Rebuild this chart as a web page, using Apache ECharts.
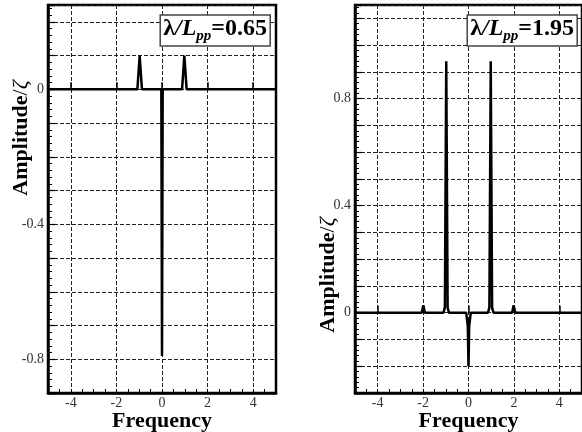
<!DOCTYPE html>
<html>
<head>
    <meta charset="utf-8">
    <title>Amplitude spectrum</title>
    <script src="https://cdn.jsdelivr.net/npm/echarts@6/dist/echarts.min.js"></script>
</head>
<body style="margin:0">
    <div id="main" style="width:582px;height:432px"></div>
    <script type="text/javascript">
        // left panel, lambda/Lpp = 0.65
        var freqLeft = [-5, -1.08, -0.98, -0.88, -0.03, 0, 0.03, 0.88, 0.98, 1.08, 5];
        var ampLeft  = [0, 0, 0.1, 0, 0, -0.79, 0, 0, 0.1, 0, 0];
        // right panel, lambda/Lpp = 1.95
        var freqRight = [-5, -2.06, -1.99, -1.92, -1.1, -1.04, -0.98, -0.92, -0.86,
                         -0.1, -0.03, 0, 0.03, 0.1, 0.86, 0.92, 0.98, 1.04, 1.1, 1.92, 1.99, 2.06, 5];
        var ampRight  = [0, 0, 0.028, 0, 0, 0.02, 0.94, 0.02, 0,
                         0, -0.05, -0.2, -0.05, 0, 0, 0.02, 0.94, 0.02, 0, 0, 0.028, 0, 0];
        var ratioLabels = ['0.65', '1.95'];
        var xMajorTicks = [-4, -2, 0, 2, 4];
        var yRangeLeft = [-0.9, 0.25];
        var yRangeRight = [-0.3, 1.15];

        var FONT = 'Liberation Serif';

        function pairs(xs, ys) {
            var out = [];
            for (var i = 0; i < xs.length; i++) out.push([xs[i], ys[i]]);
            return out;
        }

        function xLabel(v) {
            return Math.abs(v % 2) < 1e-9 ? String(v) : '';
        }
        function yLabel(v) {
            var k = Math.round(v * 10);
            if (Math.abs(v * 10 - k) > 1e-6 || k % 4 !== 0) return '';
            return k === 0 ? '0' : String(k / 10);
        }

        // axis with all the small ticks, labels and the dashed verticals
        function xMain(grid) {
            return {
                type: 'value', gridIndex: grid, min: -5, max: 5, interval: 0.5,
                name: 'Frequency', nameLocation: 'middle', nameGap: 17, nameMoveOverlap: false,
                nameTextStyle: { fontFamily: FONT, fontWeight: 'bold', fontSize: 22, color: '#000' },
                axisLine: { show: true, onZero: false, lineStyle: { color: '#000', width: 2.5 } },
                axisTick: { show: true, inside: true, length: 4, lineStyle: { color: '#000', width: 1 } },
                axisLabel: { formatter: xLabel, margin: 3, fontFamily: FONT, fontSize: 14, color: '#333' },
                splitLine: { show: true, lineStyle: { color: ['transparent', 'transparent', '#222', 'transparent'], type: [4, 2], width: 1 } }
            };
        }
        // longer ticks at the labelled values only
        function xMajor(grid) {
            return {
                type: 'value', gridIndex: grid, min: -5, max: 5, interval: 1, position: 'bottom',
                axisLine: { show: false },
                axisTick: { show: true, inside: true, length: 7, customValues: xMajorTicks, lineStyle: { color: '#000', width: 1.5 } },
                axisLabel: { show: false },
                splitLine: { show: false }
            };
        }
        function yAxisFor(grid, range, shift, gap) {
            return {
                type: 'value', gridIndex: grid, min: range[0], max: range[1], interval: 0.1,
                name: '{b|Amplitude}{r|/}{z|ζ}', nameLocation: 'middle', nameRotate: 90, nameGap: gap,
                nameMoveOverlap: false,
                nameTextStyle: {
                    padding: shift,
                    rich: {
                        b: { fontFamily: FONT, fontWeight: 'bold', fontSize: 22, color: '#000' },
                        r: { fontFamily: FONT, fontSize: 22, color: '#000' },
                        z: { fontFamily: FONT, fontStyle: 'italic', fontSize: 22, color: '#000' }
                    }
                },
                axisLine: { show: true, onZero: false, lineStyle: { color: '#000', width: 2.5 } },
                axisTick: { show: true, inside: true, length: 7, lineStyle: { color: '#000', width: 1.2 } },
                minorTick: { show: true, splitNumber: 5, length: 4, lineStyle: { color: '#000', width: 1 } },
                axisLabel: { formatter: yLabel, margin: 4, fontFamily: FONT, fontSize: 14, color: '#333' },
                splitLine: { show: true, lineStyle: { color: '#222', type: [4, 2], width: 1 } }
            };
        }
        function ratioBox(label, right) {
            return {
                text: '{l|λ}{i|/L}{s|pp}{b|=' + label + '}',
                right: right, top: 12,
                padding: [2, 3, 2, 3],
                backgroundColor: '#fff', borderColor: '#444', borderWidth: 1.5,
                textStyle: {
                    rich: {
                        l: { fontFamily: FONT, fontSize: 24, color: '#000', lineHeight: 30 },
                        i: { fontFamily: FONT, fontWeight: 'bold', fontStyle: 'italic', fontSize: 24, color: '#000', lineHeight: 30 },
                        s: { fontFamily: FONT, fontWeight: 'bold', fontStyle: 'italic', fontSize: 15, color: '#000', lineHeight: 10, verticalAlign: 'bottom' },
                        b: { fontFamily: FONT, fontWeight: 'bold', fontSize: 24, color: '#000', lineHeight: 30 }
                    }
                }
            };
        }

        var myChart = echarts.init(document.getElementById('main'), null, { renderer: 'canvas' });
        myChart.setOption({
            animation: false,
            backgroundColor: '#fff',
            title: [ratioBox(ratioLabels[0], 312), ratioBox(ratioLabels[1], 5)],
            grid: [
                { left: 48, top: 5, width: 228, height: 388, show: true, borderColor: '#000', borderWidth: 2.5, outerBoundsMode: 'none' },
                { left: 355, top: 5, width: 227, height: 388, show: true, borderColor: '#000', borderWidth: 2.5, outerBoundsMode: 'none' }
            ],
            xAxis: [xMain(0), xMajor(0), xMain(1), xMajor(1)],
            yAxis: [
                yAxisFor(0, yRangeLeft, [0, 0, 0, 122], 16),
                yAxisFor(1, yRangeRight, [0, 152, 0, 0], 16)
            ],
            series: [
                {
                    type: 'line', xAxisIndex: 0, yAxisIndex: 0, data: pairs(freqLeft, ampLeft),
                    showSymbol: false, lineStyle: { color: '#000', width: 2.5 }, z: 5
                },
                {
                    type: 'line', xAxisIndex: 2, yAxisIndex: 1, data: pairs(freqRight, ampRight),
                    showSymbol: false, lineStyle: { color: '#000', width: 2.5 }, z: 5
                }
            ]
        });
    </script>
</body>
</html>
